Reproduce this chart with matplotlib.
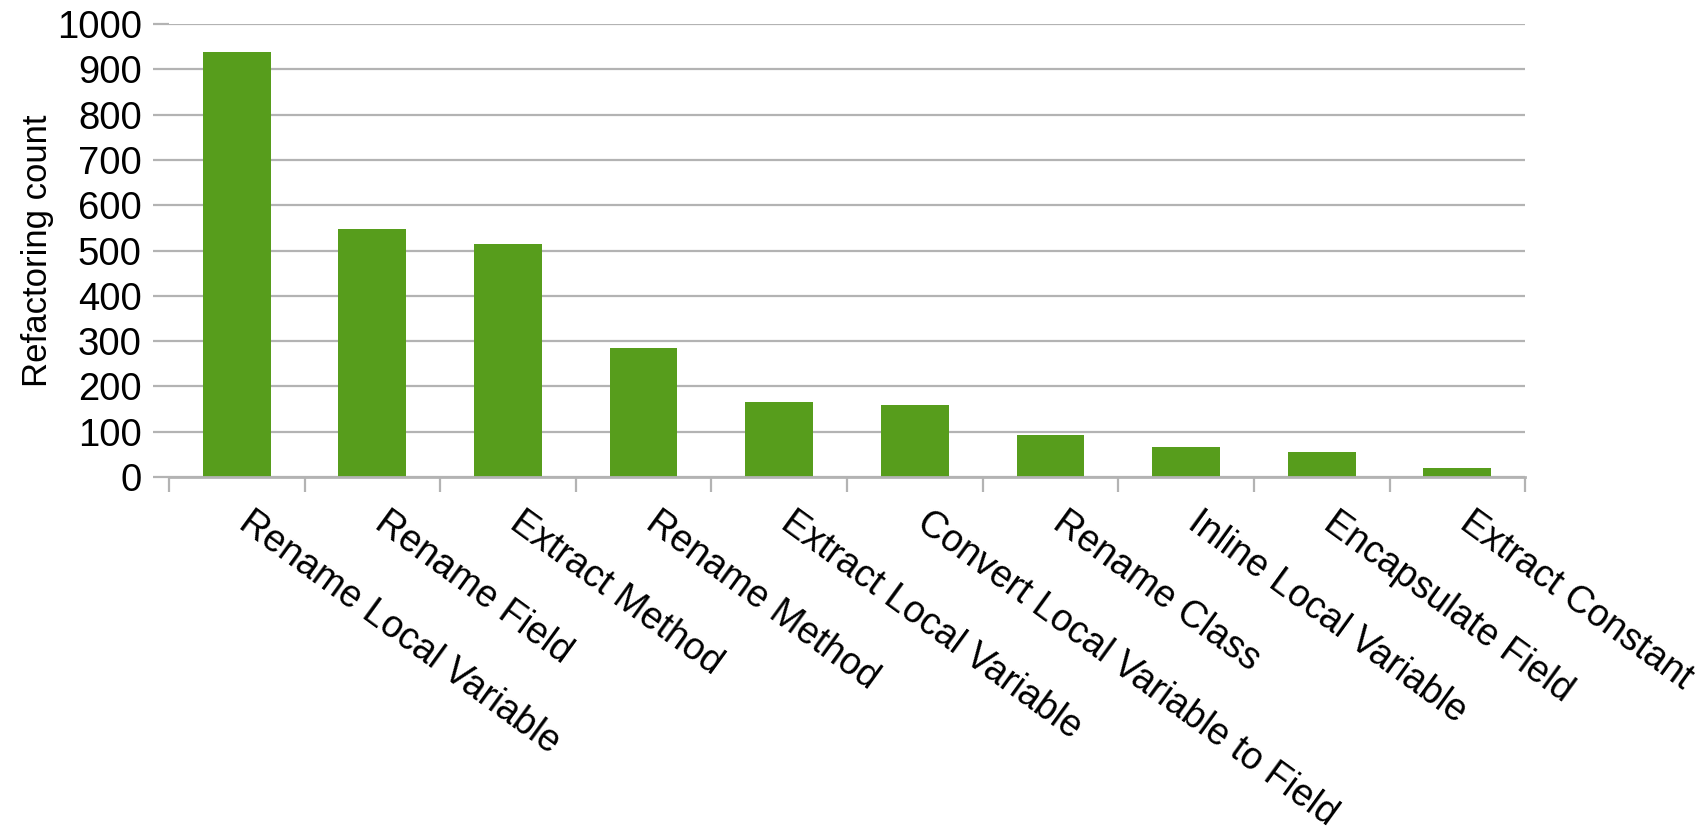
import numpy as np
import matplotlib.pyplot as plt
from matplotlib.transforms import ScaledTranslation

refactorings = ['Rename Local Variable', 'Rename Field', 'Extract Method',
                'Rename Method', 'Extract Local Variable',
                'Convert Local Variable to Field', 'Rename Class',
                'Inline Local Variable', 'Encapsulate Field', 'Extract Constant']
counts = [939, 547, 515, 285, 166, 158, 92, 67, 56, 20]
yticks = [0, 100, 200, 300, 400, 500, 600, 700, 800, 900, 1000]

bar_color = '#579d1c'
grid_color = '#b3b3b3'

plt.rcParams['font.family'] = ['Liberation Sans', 'DejaVu Sans']

fig = plt.figure(figsize=(17.06, 8.34), dpi=100)
ax = fig.add_axes([0.099, 0.428, 0.795, 0.543])

x = np.arange(len(refactorings))
ax.bar(x, counts, width=0.5, color=bar_color, zorder=3)

ax.set_xlim(-0.5, len(refactorings) - 0.5)
ax.set_ylim(0, 1000)
ax.set_yticks(yticks)
ax.yaxis.grid(True, color=grid_color, linewidth=1.6, zorder=0)
ax.tick_params(axis='y', length=11.5, width=1.6, color=grid_color,
               labelsize=27.5, pad=8)

ax.set_xticks(x)
ax.set_xticklabels(refactorings, rotation=-36, ha='left', va='top',
                   rotation_mode='anchor', fontsize=27)
ax.set_xticks(np.arange(-0.5, len(refactorings)), minor=True)
ax.tick_params(axis='x', which='major', length=0, pad=20)
ax.tick_params(axis='x', which='minor', length=11, width=1.6, color=grid_color)

# nudge the slanted category names so they start right under each bar
shift = ScaledTranslation(12 / 72, 0, fig.dpi_scale_trans)
for lbl in ax.get_xticklabels():
    lbl.set_transform(lbl.get_transform() + shift)

for side in ['top', 'right', 'left']:
    ax.spines[side].set_visible(False)
ax.spines['bottom'].set_color(grid_color)
ax.spines['bottom'].set_linewidth(2)
ax.spines['bottom'].set_zorder(4)

ax.set_ylabel('Refactoring count', fontsize=25, labelpad=2)

fig.savefig('out.png', dpi=100, facecolor='white')
